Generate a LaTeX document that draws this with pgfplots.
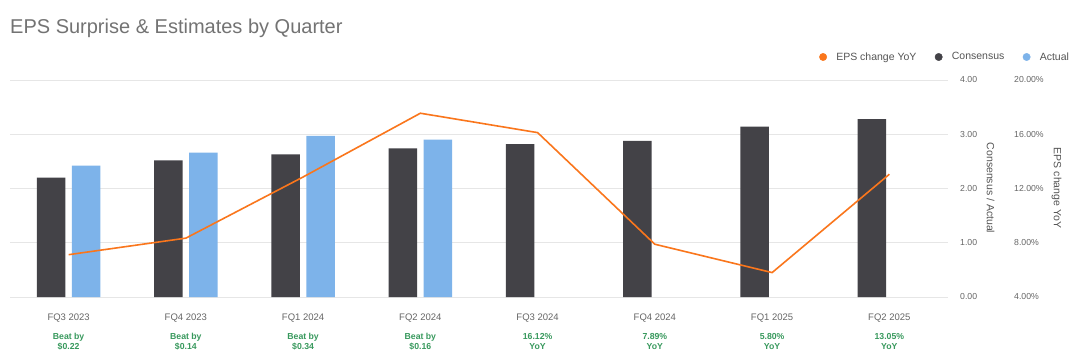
\documentclass[border=0pt]{standalone}
\usepackage{pgfplots}
\pgfplotsset{compat=1.18}
\usepackage{fontspec}
\setmainfont{Liberation Sans}
\definecolor{cDark}{RGB}{67,66,71}
\definecolor{cBlue}{RGB}{125,179,234}
\definecolor{cOrange}{RGB}{250,118,28}
\definecolor{cGreen}{RGB}{56,153,93}
\definecolor{cTick}{RGB}{102,102,102}
\definecolor{cTitle}{RGB}{115,115,115}
\definecolor{cGrid}{RGB}{230,230,230}
\definecolor{cLab}{RGB}{85,85,85}
\newcommand{\cat}[3]{\textcolor{cTick}{#1}\\[8pt]\textcolor{cGreen}{\bfseries\fontsize{8.7}{10.5}\selectfont #2}\\\textcolor{cGreen}{\bfseries\fontsize{8.7}{10.5}\selectfont #3}}
\begin{document}
\begin{tikzpicture}
\useasboundingbox (0,0) rectangle (1080pt,359pt);
\fill[white] (0,0) rectangle (1080pt,359pt);
\node[anchor=base west, inner sep=0pt, text=cTitle, font=\fontsize{20}{24}\selectfont] at (10pt,325.7pt) {EPS Surprise \& Estimates by Quarter};
\begin{axis}[
  at={(10pt,62pt)}, anchor=south west, scale only axis,
  width=938pt, height=217pt,
  xmin=-0.5, xmax=7.5, ymin=0, ymax=4,
  axis line style={draw=none},
  major tick length=0pt,
  xtick={0,1,2,3,4,5,6,7},
  xticklabels={
    {\cat{FQ3 2023}{Beat by}{\$0.22}},
    {\cat{FQ4 2023}{Beat by}{\$0.14}},
    {\cat{FQ1 2024}{Beat by}{\$0.34}},
    {\cat{FQ2 2024}{Beat by}{\$0.16}},
    {\cat{FQ3 2024}{16.12\%}{YoY}},
    {\cat{FQ4 2024}{7.89\%}{YoY}},
    {\cat{FQ1 2025}{5.80\%}{YoY}},
    {\cat{FQ2 2025}{13.05\%}{YoY}}},
  xticklabel style={font=\fontsize{9.5}{10.5}\selectfont, align=center, anchor=north, inner sep=0pt, yshift=-17pt},
  ytick={0,1,2,3,4},
  yticklabel pos=right,
  /pgf/number format/assume math mode=true,
  yticklabel={\pgfmathprintnumber[fixed,fixed zerofill,precision=2]{\tick}},
  yticklabel style={font=\fontsize{8.7}{10}\selectfont, text=cTick, anchor=west, inner sep=0pt, xshift=12pt},
  ymajorgrids, grid style={cGrid, line width=1pt},
  clip=false,
]
\addplot[ybar, bar width=28.6pt, bar shift=-17.5pt, fill=cDark, draw=none] coordinates {
  (0,2.20) (1,2.52) (2,2.63) (3,2.74) (4,2.82) (5,2.88) (6,3.14) (7,3.28)};
\addplot[ybar, bar width=28.6pt, bar shift=17.5pt, fill=cBlue, draw=none] coordinates {
  (0,2.42) (1,2.66) (2,2.97) (3,2.90)};
\end{axis}
\begin{axis}[
  at={(10pt,62pt)}, anchor=south west, scale only axis,
  width=938pt, height=217pt,
  xmin=-0.5, xmax=7.5, ymin=4, ymax=20,
  axis line style={draw=none},
  major tick length=0pt,
  xtick=\empty,
  ytick={4,8,12,16,20},
  yticklabel pos=right,
  /pgf/number format/assume math mode=true,
  yticklabel={\pgfmathprintnumber[fixed,fixed zerofill,precision=2]{\tick}\%},
  yticklabel style={font=\fontsize{8.7}{10}\selectfont, text=cTick, anchor=west, inner sep=0pt, xshift=66pt},
  clip=false,
  legend columns=-1,
  legend style={at={(rel axis cs:1.129,1.106)}, anchor=east, draw=none, fill=none,
    inner sep=0pt, outer sep=0pt, font=\fontsize{10.5}{12}\selectfont, text=cLab,
    nodes={inner sep=0pt},
    /tikz/every odd column/.append style={column sep=9.3pt},
    /tikz/every even column/.append style={column sep=18.3pt}},
]
\addlegendimage{legend image code/.code={\fill[cOrange] (0pt,0pt) circle (3.7pt);}}
\addlegendentry{EPS change YoY}
\addlegendimage{legend image code/.code={\fill[cDark] (0pt,0pt) circle (3.7pt);}}
\addlegendentry{Consensus}
\addlegendimage{legend image code/.code={\fill[cBlue] (0pt,0pt) circle (3.7pt);}}
\addlegendentry{Actual}
\addplot[cOrange, line width=1.6pt, forget plot] coordinates {
  (0,7.12) (1,8.34) (2,12.85) (3,17.55) (4,16.12) (5,7.89) (6,5.80) (7,13.05)};
\end{axis}
\node[rotate=-90, font=\fontsize{10.5}{12}\selectfont, text=cLab] at (990.5pt,171pt) {Consensus / Actual};
\node[rotate=-90, font=\fontsize{10.5}{12}\selectfont, text=cLab] at (1056.5pt,171pt) {EPS change YoY};
\end{tikzpicture}
\end{document}
